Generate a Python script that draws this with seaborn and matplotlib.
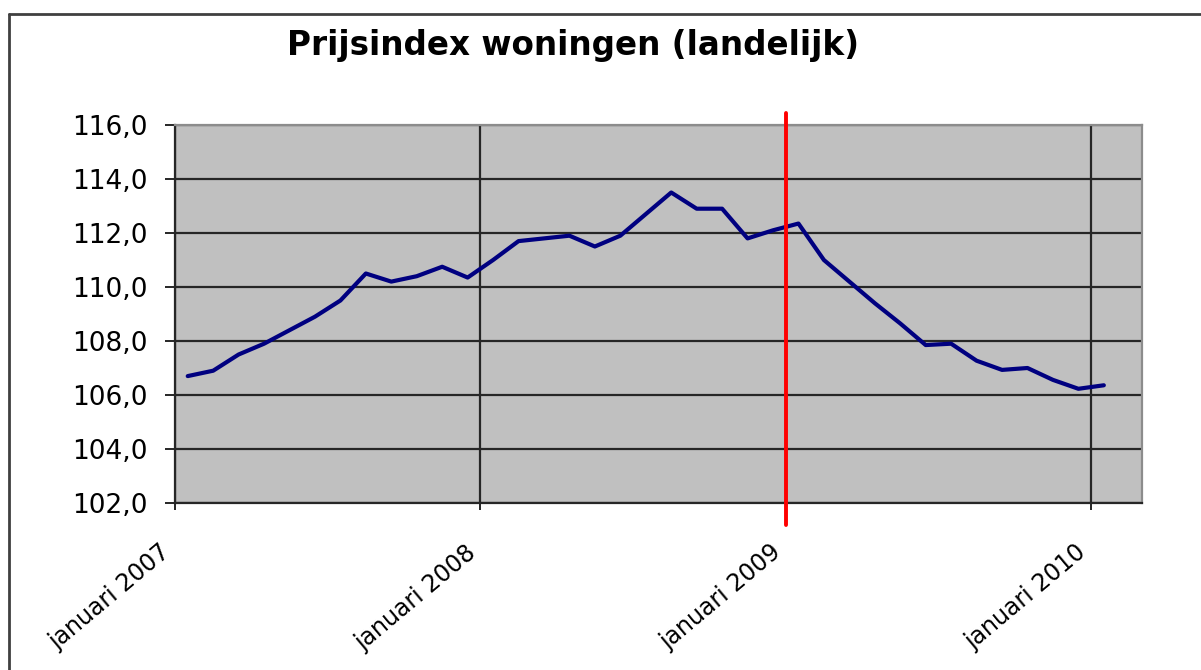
import matplotlib
matplotlib.use("Agg")
import matplotlib.pyplot as plt
import matplotlib.ticker as mticker
from matplotlib.lines import Line2D
import seaborn as sns
import pandas as pd

# Prijsindex woningen, monthly values januari 2007 .. januari 2010
months = list(range(37))
index_values = [
    106.7, 106.9, 107.5, 107.9, 108.4, 108.9, 109.5, 110.5, 110.2, 110.4, 110.75, 110.35,
    111.0, 111.7, 111.8, 111.9, 111.5, 111.9, 112.7, 113.5, 112.9, 112.9, 111.8, 112.1,
    112.35, 111.0, 110.2, 109.4, 108.65, 107.85, 107.9, 107.27, 106.93, 107.0, 106.56, 106.23,
    106.36,
]
tick_months = [0, 12, 24, 36]
tick_labels = ["januari 2007", "januari 2008", "januari 2009", "januari 2010"]
marker_month = 24
y_ticks = [102, 104, 106, 108, 110, 112, 114, 116]

df = pd.DataFrame({"month": months, "index": index_values})
# Excel category axis: points sit in the middle of each month slot
df["pos"] = df["month"] + 0.5

sns.set_theme(style="white")
plt.rcParams["font.family"] = ["DejaVu Sans"]

fig = plt.figure(figsize=(12.01, 6.70), dpi=100)
fig.patch.set_facecolor("white")
ax = fig.add_axes([175 / 1201, 1 - 503 / 670, (1142 - 175) / 1201, (503 - 125) / 670])
ax.set_facecolor("#C0C0C0")

sns.lineplot(data=df, x="pos", y="index", ax=ax, color="#000080", linewidth=3.0,
             zorder=3, legend=False)
ax.set_xlabel("")
ax.set_ylabel("")

ax.set_xlim(0, 38)
ax.set_ylim(102, 116)

ax.set_yticks(y_ticks)
ax.yaxis.set_major_formatter(mticker.FuncFormatter(lambda v, p: f"{v:.1f}".replace(".", ",")))
ax.set_xticks(tick_months)
# bottom-right anchor: the end of each label sits right under its gridline
ax.set_xticklabels(tick_labels, rotation=40, ha="right", va="bottom", rotation_mode="anchor")

ax.grid(True, color="#262626", linewidth=1.6)
ax.set_axisbelow(True)

ax.tick_params(axis="y", which="major", length=7, width=1.4, color="#262626",
               pad=13, labelsize=19, left=True, labelcolor="black")
ax.tick_params(axis="x", which="major", length=5, width=1.4, color="#262626",
               pad=35, labelsize=17, bottom=True, labelcolor="black")

for side in ["left", "bottom"]:
    ax.spines[side].set_color("#262626")
    ax.spines[side].set_linewidth(1.6)
for side in ["top", "right"]:
    ax.spines[side].set_color("#8C8C8C")
    ax.spines[side].set_linewidth(1.6)

ax.axvline(marker_month, ymin=-0.058, ymax=1.032, color="#FF0000", linewidth=2.8,
           clip_on=False, zorder=4)

fig.text(573 / 1201, 1 - 45 / 670, "Prijsindex woningen (landelijk)", ha="center",
         va="center", fontsize=23.5, fontweight="bold", color="black")

# chart area border (top and left only visible in the reference crop)
bx, by = 9 / 1201, 1 - 14 / 670
fig.add_artist(Line2D([bx, 1], [by, by], transform=fig.transFigure, color="#404040", linewidth=2))
fig.add_artist(Line2D([bx, bx], [0, by], transform=fig.transFigure, color="#404040", linewidth=2))

fig.savefig("out.png", dpi=100)
